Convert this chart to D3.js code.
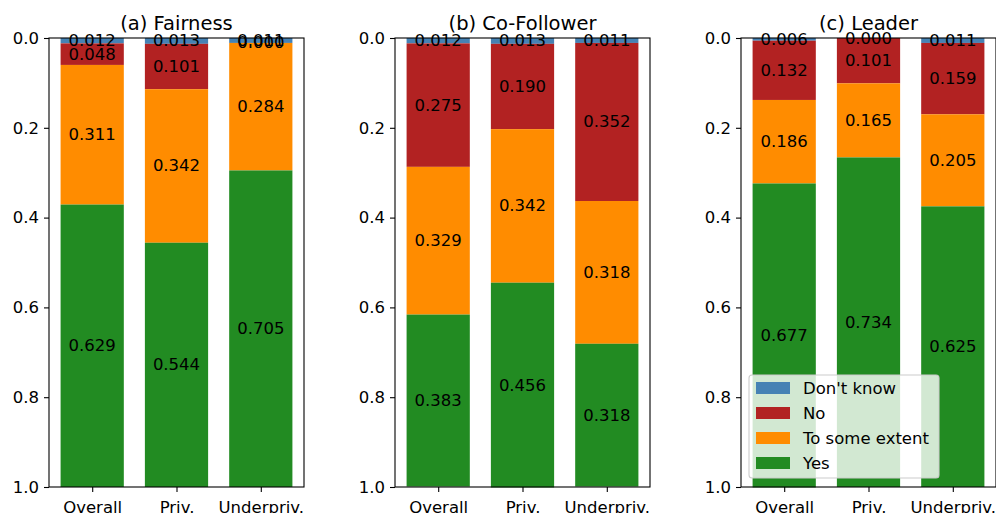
<!DOCTYPE html>
<html>
<head>
<meta charset="utf-8">
<script src="https://cdn.jsdelivr.net/npm/d3@7"></script>
<style>
  html, body { margin: 0; padding: 0; background: #fff; }
  svg { display: block; font-family: "DejaVu Sans", sans-serif; }
</style>
</head>
<body>
<svg id="chart" width="996" height="513"></svg>
<script>
// Response shares per group, stacked from the top: Don't know, No, To some extent, Yes
const groups = ["Overall", "Priv.", "Underpriv."];
const responses = ["Don't know", "No", "To some extent", "Yes"];
const colors = ["#4682b4", "#b22222", "#ff8c00", "#228b22"];
const panelTitles = ["(a) Fairness", "(b) Co-Follower", "(c) Leader"];
const yTicks = [0.0, 0.2, 0.4, 0.6, 0.8, 1.0];

// values[group] = [Don't know, No, To some extent, Yes]
const fairness = [
  [0.012, 0.048, 0.311, 0.629],
  [0.013, 0.101, 0.342, 0.544],
  [0.011, 0.000, 0.284, 0.705]
];
const coFollower = [
  [0.012, 0.275, 0.329, 0.383],
  [0.013, 0.190, 0.342, 0.456],
  [0.011, 0.352, 0.318, 0.318]
];
const leader = [
  [0.006, 0.132, 0.186, 0.677],
  [0.000, 0.101, 0.165, 0.734],
  [0.011, 0.159, 0.205, 0.625]
];
const panels = [fairness, coFollower, leader];

const svg = d3.select("#chart");
const plotTop = 38, plotBottom = 487;
const firstLeft = 49, panelWidth = 255, panelGap = 91;
const barWidth = 0.75;
const xPad = 0.05 * (groups.length - 1 + barWidth);
const fontSize = 16.5;

const y = d3.scaleLinear().domain([0, 1]).range([plotTop, plotBottom]);

panels.forEach((data, p) => {
  const left = firstLeft + p * (panelWidth + panelGap);
  const x = d3.scaleLinear()
    .domain([-barWidth / 2 - xPad, groups.length - 1 + barWidth / 2 + xPad])
    .range([left, left + panelWidth]);

  const g = svg.append("g");

  // stacked segments
  data.forEach((vals, gi) => {
    let acc = 0;
    vals.forEach((v, ri) => {
      const y0 = acc, y1 = acc + v;
      acc = y1;
      g.append("rect")
        .attr("x", x(gi - barWidth / 2))
        .attr("width", x(gi + barWidth / 2) - x(gi - barWidth / 2))
        .attr("y", y(y0))
        .attr("height", Math.max(0, y(y1) - y(y0)))
        .attr("fill", colors[ri]);
    });
  });

  // value labels centred in each segment
  data.forEach((vals, gi) => {
    let acc = 0;
    vals.forEach((v) => {
      const mid = acc + v / 2;
      acc += v;
      g.append("text")
        .attr("x", x(gi))
        .attr("y", y(mid))
        .attr("text-anchor", "middle")
        .attr("dominant-baseline", "central")
        .attr("font-size", fontSize)
        .attr("fill", "#000")
        .text(v.toFixed(3));
    });
  });

  // axes
  const yAxis = d3.axisLeft(y).tickValues(yTicks).tickFormat(d3.format(".1f"))
    .tickSizeInner(5).tickSizeOuter(0).tickPadding(5);
  const ya = g.append("g").attr("transform", `translate(${left},0)`).call(yAxis);
  const xAxis = d3.axisBottom(x).tickValues(d3.range(groups.length))
    .tickFormat(i => groups[i]).tickSizeInner(5).tickSizeOuter(0).tickPadding(9);
  const xa = g.append("g").attr("transform", `translate(0,${plotBottom})`).call(xAxis);
  [ya, xa].forEach(a => {
    a.select(".domain").remove();
    a.selectAll(".tick line").attr("stroke", "#000").attr("stroke-width", 1.1);
    a.selectAll(".tick text").attr("font-size", fontSize).attr("fill", "#000")
      .attr("font-family", "DejaVu Sans, sans-serif");
  });

  // frame
  g.append("rect")
    .attr("x", left).attr("y", plotTop)
    .attr("width", panelWidth).attr("height", plotBottom - plotTop)
    .attr("fill", "none").attr("stroke", "#000").attr("stroke-width", 1.1);

  // title
  g.append("text")
    .attr("x", left + panelWidth / 2)
    .attr("y", plotTop - 8)
    .attr("text-anchor", "middle")
    .attr("font-size", 19.5)
    .attr("fill", "#000")
    .text(panelTitles[p]);

  // legend in the last panel
  if (p === panels.length - 1) {
    const lx = left + 8, ly = 375, lw = 190, lh = 103;
    const lg = g.append("g");
    lg.append("rect")
      .attr("x", lx).attr("y", ly).attr("width", lw).attr("height", lh)
      .attr("rx", 3).attr("ry", 3)
      .attr("fill", "#fff").attr("fill-opacity", 0.8)
      .attr("stroke", "#cccccc").attr("stroke-width", 1.1);
    responses.forEach((r, i) => {
      const cy = ly + 13 + i * 25;
      lg.append("rect")
        .attr("x", lx + 7).attr("y", cy - 6)
        .attr("width", 34).attr("height", 12)
        .attr("fill", colors[i]);
      lg.append("text")
        .attr("x", lx + 54).attr("y", cy)
        .attr("dominant-baseline", "central")
        .attr("font-size", 16.5)
        .attr("fill", "#000")
        .text(r);
    });
  }
});
</script>
</body>
</html>
